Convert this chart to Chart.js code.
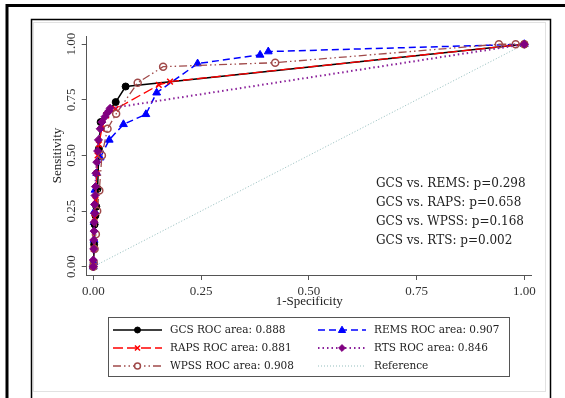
<!DOCTYPE html>
<html><head><meta charset="utf-8">
<script src="https://cdn.jsdelivr.net/npm/chart.js@4"></script>
<style>html,body{margin:0;padding:0;background:#fff}#wrap{width:565px;height:398px;position:relative}</style>
</head><body><div id="wrap"><canvas id="c" width="565" height="398"></canvas></div>
<script>
// ---- data ----
const tickValues = [0, 0.25, 0.5, 0.75, 1];
const tickLabels = ['0.00', '0.25', '0.50', '0.75', '1.00'];
const xTitle = '1-Specificity';
const yTitle = 'Sensitivity';

const gcsFpr  = [0, 0.002, 0.003, 0.005, 0.007, 0.010, 0.013, 0.017, 0.052, 0.075, 1];
const gcsSens = [0, 0.10, 0.19, 0.23, 0.27, 0.35, 0.53, 0.65, 0.74, 0.81, 1];

const remsFpr  = [0, 0.001, 0.002, 0.002, 0.003, 0.004, 0.008, 0.016, 0.037, 0.070, 0.122, 0.147, 0.242, 0.387, 0.406, 1];
const remsSens = [0, 0.02, 0.12, 0.20, 0.25, 0.345, 0.42, 0.49, 0.57, 0.64, 0.685, 0.782, 0.913, 0.952, 0.967, 1];

const rapsFpr  = [0, 0.001, 0.003, 0.005, 0.008, 0.010, 0.013, 0.020, 0.030, 0.052, 0.152, 0.178, 1];
const rapsSens = [0, 0.08, 0.22, 0.30, 0.42, 0.50, 0.55, 0.62, 0.68, 0.709, 0.817, 0.832, 1];

const rtsFpr  = [0, 0, 0.001, 0.001, 0.002, 0.002, 0.003, 0.003, 0.004, 0.005, 0.006, 0.008, 0.010, 0.012, 0.016, 0.020, 0.027, 0.032, 0.036, 0.039, 1];
const rtsSens = [0, 0.03, 0.08, 0.12, 0.16, 0.20, 0.24, 0.28, 0.32, 0.36, 0.42, 0.47, 0.52, 0.57, 0.62, 0.65, 0.674, 0.69, 0.70, 0.712, 1];

const wpssFpr  = [0, 0.001, 0.003, 0.006, 0.009, 0.014, 0.020, 0.033, 0.053, 0.103, 0.162, 0.422, 0.941, 0.980, 1];
const wpssSens = [0, 0.02, 0.08, 0.146, 0.25, 0.342, 0.50, 0.62, 0.687, 0.827, 0.899, 0.917, 1.0, 1.0, 1];

const refFpr  = [0, 1];
const refSens = [0, 1];

const legendLabels = {
  GCS: 'GCS ROC area: 0.888',
  REMS: 'REMS ROC area: 0.907',
  RAPS: 'RAPS ROC area: 0.881',
  RTS: 'RTS ROC area: 0.846',
  WPSS: 'WPSS ROC area: 0.908',
  Reference: 'Reference'
};
const legendOrder = [['GCS', 'REMS'], ['RAPS', 'RTS'], ['WPSS', 'Reference']];

const pValueLines = [
  'GCS vs. REMS: p=0.298',
  'GCS vs. RAPS: p=0.658',
  'GCS vs. WPSS: p=0.168',
  'GCS vs. RTS: p=0.002'
];

// ---- build ----
function pts(xs, ys) { return xs.map((x, i) => ({ x: x, y: ys[i] })); }

const datasets = [
  { key: 'GCS', label: legendLabels.GCS, data: pts(gcsFpr, gcsSens), borderColor: '#000', backgroundColor: '#000',
    pointBackgroundColor: '#000', pointBorderColor: '#000', borderWidth: 1.5, borderDash: [], pointStyle: 'circle', pointRadius: 3.5, pointBorderWidth: 1, order: 3 },
  { key: 'REMS', label: legendLabels.REMS, data: pts(remsFpr, remsSens), borderColor: '#0000ff', backgroundColor: '#0000ff',
    pointBackgroundColor: '#0000ff', pointBorderColor: '#0000ff', borderWidth: 1.5, borderDash: [7, 4], pointStyle: 'triangle', pointRadius: 4.5, pointBorderWidth: 1, order: 4 },
  { key: 'RAPS', label: legendLabels.RAPS, data: pts(rapsFpr, rapsSens), borderColor: '#ff0000', backgroundColor: '#ff0000',
    pointBackgroundColor: '#ff0000', pointBorderColor: '#ff0000', borderWidth: 1.3, borderDash: [10, 4], pointStyle: 'crossRot', pointRadius: 4, pointBorderWidth: 1.5, order: 2 },
  { key: 'RTS', label: legendLabels.RTS, data: pts(rtsFpr, rtsSens), borderColor: '#8a1f9a', backgroundColor: '#800080',
    pointBackgroundColor: '#800080', pointBorderColor: '#800080', borderWidth: 2, borderDash: [1.5, 3], pointStyle: 'rectRot', pointRadius: 4, pointBorderWidth: 1, order: 0 },
  { key: 'WPSS', label: legendLabels.WPSS, data: pts(wpssFpr, wpssSens), borderColor: '#a04a4a', backgroundColor: '#fff',
    pointBackgroundColor: 'rgba(255,255,255,0)', pointBorderColor: '#a04a4a', borderWidth: 1.3, borderDash: [8, 3, 1.5, 3, 1.5, 3], pointStyle: 'circle', pointRadius: 3.5, pointBorderWidth: 1.5, order: 1 },
  { key: 'Reference', label: legendLabels.Reference, data: pts(refFpr, refSens), borderColor: '#93bdbd', backgroundColor: '#93bdbd',
    borderWidth: 1, borderDash: [1, 2], pointRadius: 0, pointStyle: false, order: 5 }
];
datasets.forEach(d => { d.showLine = true; d.tension = 0; d.fill = false; });

function drawMarker(ctx, style, x, y, r, fill, stroke, lw) {
  ctx.save();
  ctx.setLineDash([]);
  ctx.lineWidth = lw; ctx.fillStyle = fill; ctx.strokeStyle = stroke;
  ctx.beginPath();
  if (style === 'circle') { ctx.arc(x, y, r, 0, Math.PI * 2); ctx.fill(); ctx.stroke(); }
  else if (style === 'triangle') {
    const h = r * 1.5;
    ctx.moveTo(x, y - r); ctx.lineTo(x + r * 0.95, y + r * 0.65); ctx.lineTo(x - r * 0.95, y + r * 0.65); ctx.closePath(); ctx.fill(); ctx.stroke();
  } else if (style === 'rectRot') {
    ctx.moveTo(x, y - r); ctx.lineTo(x + r, y); ctx.lineTo(x, y + r); ctx.lineTo(x - r, y); ctx.closePath(); ctx.fill(); ctx.stroke();
  } else if (style === 'crossRot') {
    const d = r * 0.75;
    ctx.moveTo(x - d, y - d); ctx.lineTo(x + d, y + d); ctx.moveTo(x + d, y - d); ctx.lineTo(x - d, y + d); ctx.stroke();
  }
  ctx.restore();
}

const framePlugin = {
  id: 'frames',
  beforeDraw(chart) {
    const ctx = chart.ctx;
    ctx.save();
    ctx.fillStyle = '#fff'; ctx.fillRect(0, 0, chart.width, chart.height);
    ctx.strokeStyle = '#000'; ctx.lineWidth = 3;
    ctx.strokeRect(7, 5.5, 570, 400);
    ctx.lineWidth = 1.5;
    ctx.strokeRect(31.5, 19.5, 519, 400);
    ctx.strokeStyle = '#e2e2e2'; ctx.lineWidth = 1;
    ctx.strokeRect(33.5, 22.5, 512, 369);
    ctx.restore();
  }
};

const extrasPlugin = {
  id: 'extras',
  afterDraw(chart) {
    const ctx = chart.ctx;
    const ys = chart.scales.y;
    // y tick labels (rotated, as in the reference)
    ctx.save();
    ctx.fillStyle = '#333';
    ctx.font = '13px "Liberation Serif", serif';
    ctx.textAlign = 'center'; ctx.textBaseline = 'middle';
    tickValues.forEach((v, i) => {
      const py = ys.getPixelForValue(v);
      ctx.save(); ctx.translate(72, py); ctx.rotate(-Math.PI / 2);
      ctx.fillText(tickLabels[i], 0, 0); ctx.restore();
    });
    ctx.restore();

    // p-value annotations
    ctx.save();
    ctx.fillStyle = '#222';
    ctx.font = '12px "DejaVu Serif", serif';
    ctx.textAlign = 'left'; ctx.textBaseline = 'middle';
    pValueLines.forEach((t, i) => ctx.fillText(t, 376, 183.5 + i * 19));
    ctx.restore();

    // legend
    ctx.save();
    ctx.strokeStyle = '#555'; ctx.lineWidth = 1; ctx.setLineDash([]);
    ctx.strokeRect(108.5, 317.5, 401, 59);
    const cols = [{ l0: 113, l1: 162, tx: 170 }, { l0: 318, l1: 366, tx: 374 }];
    const rows = [330, 348, 366];
    ctx.font = '10.5px "DejaVu Serif", serif';
    ctx.textBaseline = 'middle'; ctx.textAlign = 'left';
    legendOrder.forEach((row, ri) => {
      row.forEach((key, ci) => {
        const d = datasets.find(s => s.key === key);
        const c = cols[ci], y = rows[ri];
        ctx.save();
        ctx.strokeStyle = d.borderColor; ctx.lineWidth = d.borderWidth;
        ctx.setLineDash(d.borderDash || []);
        ctx.beginPath(); ctx.moveTo(c.l0, y); ctx.lineTo(c.l1, y); ctx.stroke();
        ctx.restore();
        if (d.pointRadius > 0) {
          const fill = key === 'WPSS' ? '#fff' : d.pointBackgroundColor;
          drawMarker(ctx, d.pointStyle, (c.l0 + c.l1) / 2, y, d.pointRadius * 0.85, fill, d.pointBorderColor, d.pointBorderWidth);
        }
        ctx.fillStyle = '#222';
        ctx.fillText(d.label, c.tx, y);
      });
    });
    ctx.restore();
  }
};

const axisColor = '#555';
new Chart(document.getElementById('c'), {
  type: 'scatter',
  data: { datasets: datasets },
  options: {
    responsive: false,
    animation: false,
    devicePixelRatio: 1,
    layout: { padding: { left: 46.7, right: 33.3, top: 36, bottom: 83 } },
    plugins: { legend: { display: false }, tooltip: { enabled: false } },
    elements: { line: { tension: 0 } },
    scales: {
      x: {
        type: 'linear', min: -0.0153, max: 1.0172,
        afterBuildTicks(s) { s.ticks = tickValues.map(v => ({ value: v })); },
        afterFit(s) { s.height = 40; },
        grid: { drawOnChartArea: false, drawTicks: true, tickLength: 5, color: axisColor, lineWidth: 1 },
        border: { display: true, color: axisColor, width: 1 },
        ticks: { color: '#333', padding: 4, font: { family: '"Liberation Serif", serif', size: 13 },
          callback: (v) => { const i = tickValues.indexOf(v); return i >= 0 ? tickLabels[i] : ''; } },
        title: { display: true, text: xTitle, color: '#222', font: { family: '"Liberation Serif", serif', size: 13 }, padding: { top: 0, bottom: 6 } }
      },
      y: {
        type: 'linear', min: -0.0373, max: 1.037,
        afterBuildTicks(s) { s.ticks = tickValues.map(v => ({ value: v })); },
        afterFit(s) { s.width = 40; },
        grid: { drawOnChartArea: false, drawTicks: true, tickLength: 5, color: axisColor, lineWidth: 1 },
        border: { display: true, color: axisColor, width: 1 },
        ticks: { display: false },
        title: { display: true, text: yTitle, color: '#222', font: { family: '"Liberation Serif", serif', size: 13 }, padding: { top: 3, bottom: 0 } }
      }
    }
  },
  plugins: [framePlugin, extrasPlugin]
});
</script>
</body></html>
